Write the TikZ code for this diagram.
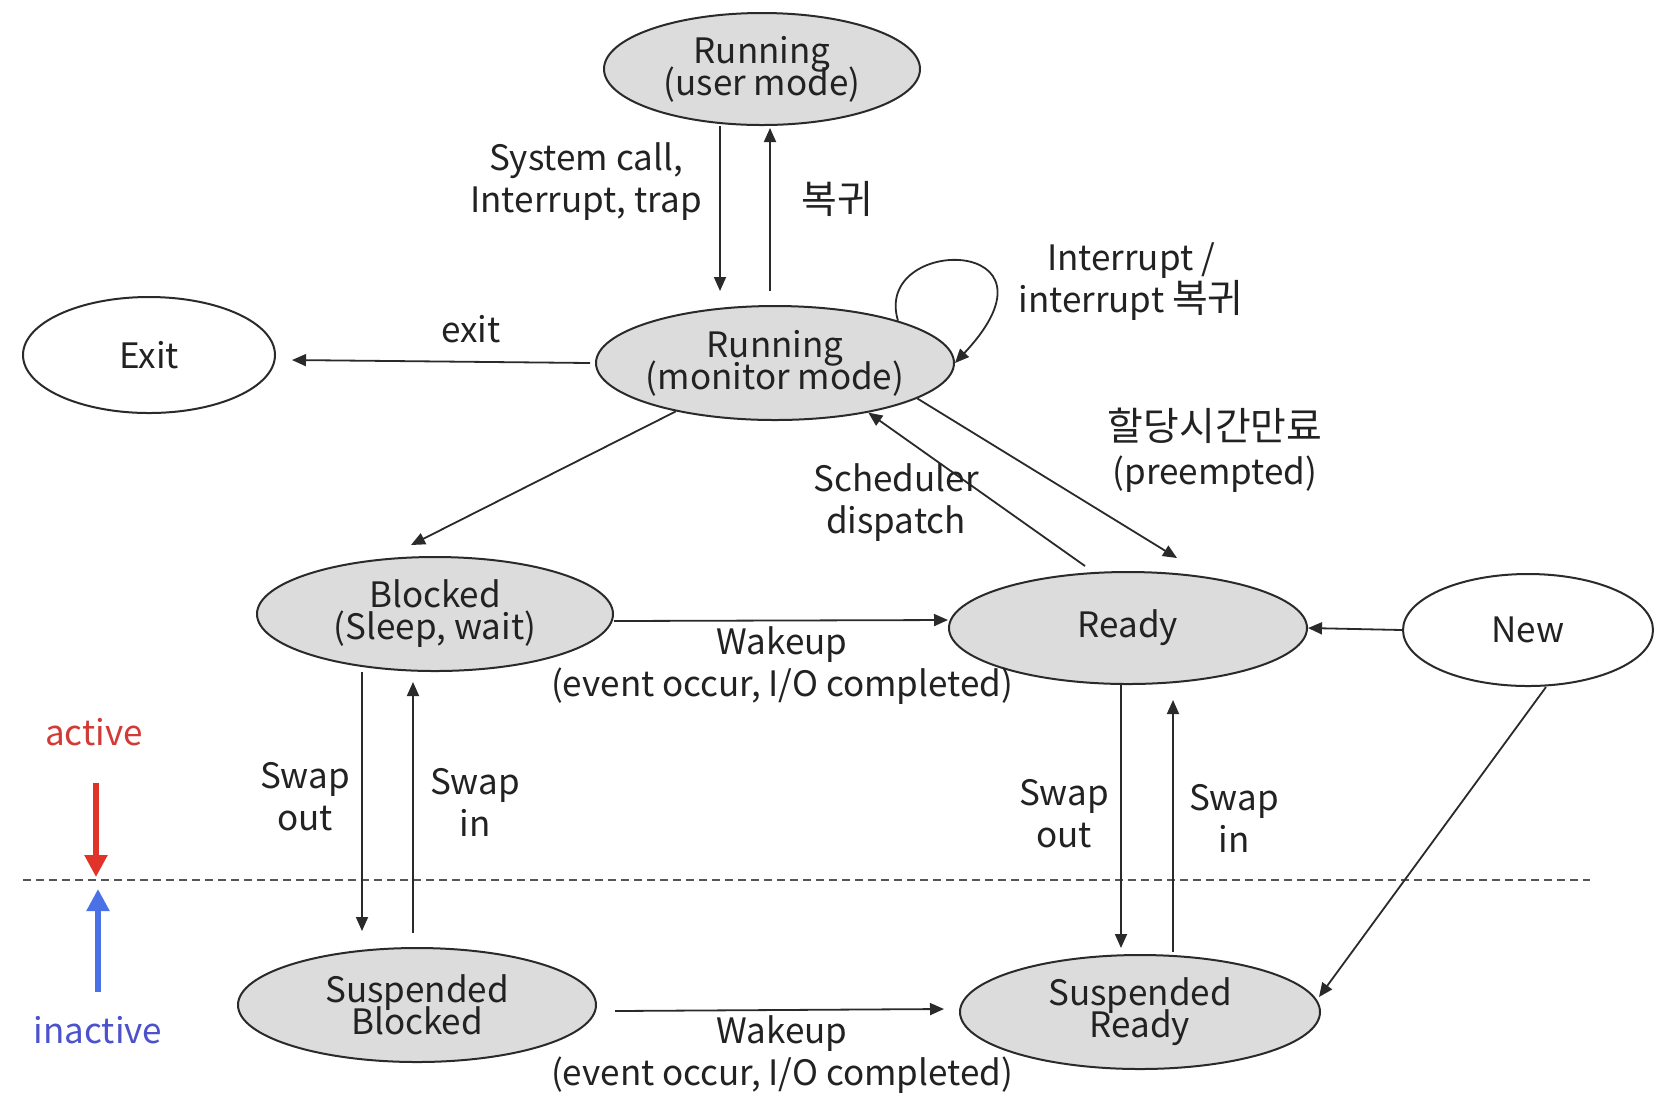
\documentclass[tikz,border=0pt]{standalone}
\usepackage{fontspec}
\setmainfont{Noto Sans CJK KR}
\newfontfamily\krfont[Scale=1.11]{Noto Sans CJK KR}
\usetikzlibrary{arrows.meta,shapes.geometric}
\definecolor{fillg}{HTML}{DCDCDC}
\definecolor{edge}{HTML}{2A2A2A}
\definecolor{txt}{HTML}{222222}
\definecolor{sepg}{HTML}{555555}
\definecolor{actred}{HTML}{E0342B}
\definecolor{actredt}{HTML}{D23A36}
\definecolor{inblue}{HTML}{4A72E6}
\definecolor{inbluet}{HTML}{4B52CC}
\newcommand\tightlead{\lineskiplimit=-20pt\relax\lineskip=0pt\relax}
\begin{document}
\begin{tikzpicture}[x=0.5pt,y=-0.5pt,
 st/.style={ellipse,draw=edge,line width=1pt,inner sep=-8pt,align=center,text=txt,font=\fontsize{17.5}{16}\selectfont\tightlead},
 gst/.style={st,fill=fillg},
 wst/.style={st,fill=white},
 lab/.style={align=center,text=txt,inner sep=0pt,font=\fontsize{17.5}{21}\selectfont},
 arr/.style={-{Triangle[length=7pt,width=6pt]},line width=0.9pt,draw=edge},
 bigarr/.style={-{Triangle[length=11pt,width=11pt]},line width=2.6pt},
 sepline/.style={draw=sepg,line width=1pt,dash pattern=on 4pt off 2.5pt}
]
\path[use as bounding box,fill=white] (0,0) rectangle (1660,1116);

% states
\node[gst,minimum width=158pt,minimum height=56pt] (user) at (762,69) {Running\\(user mode)};
\node[gst,minimum width=179pt,minimum height=57pt] (mon) at (775,363) {Running\\(monitor mode)};
\node[wst,minimum width=126pt,minimum height=58pt] (exit) at (149,355) {Exit};
\node[gst,minimum width=178pt,minimum height=57pt] (blk) at (435,614) {Blocked\\(Sleep, wait)};
\node[gst,minimum width=179pt,minimum height=56pt] (rdy) at (1128,628) {Ready};
\node[wst,minimum width=125pt,minimum height=56pt] (new) at (1528,630) {New};
\node[gst,minimum width=179pt,minimum height=57pt] (sblk) at (417,1005) {Suspended\\Blocked};
\node[gst,minimum width=180pt,minimum height=57pt] (srdy) at (1140,1012) {Suspended\\Ready};

% separator
\coordinate (sepL) at (23,880);
\coordinate (sepR) at (1590,880);
\draw[sepline] (sepL) -- (sepR);

% active / inactive
\coordinate (redS) at (96,783);
\coordinate (redE) at (96,877);
\coordinate (blueS) at (98,992);
\coordinate (blueE) at (98,889);
\draw[bigarr,draw=actred,fill=actred] (redS) -- (redE);
\draw[bigarr,draw=inblue,fill=inblue] (blueS) -- (blueE);
\node[lab,text=actredt] (active) at (94,732) {active};
\node[lab,text=inbluet] (inactive) at (98,1030) {inactive};

% connectors
\draw[arr] ([xshift=-21pt]user.south) -- ([xshift=-21pt,yshift=7pt]user.south |- mon.north);
\draw[arr] ([xshift=4pt,yshift=7pt]user.south |- mon.north) -- ([xshift=4pt,yshift=-1pt]user.south);
\draw[arr] (mon.19) .. controls +(-26,-86) and +(120,-128) .. (mon.east);
\draw[arr] ([xshift=-2.5pt]mon.west) -- ([xshift=8pt,yshift=-2.5pt]exit.east);
\draw[arr] (mon.206) -- ([xshift=-12pt,yshift=5.5pt]blk.north);
\draw[arr] ([xshift=-21.5pt,yshift=2.5pt]rdy.north) -- (mon.332);
\draw[arr] (mon.346) -- ([xshift=24.5pt,yshift=6.5pt]rdy.north);
\draw[arr] ([yshift=-3.5pt]blk.east) -- ([yshift=4pt]rdy.west);
\draw[arr] (new.west) -- (rdy.east);
\draw[arr] ([xshift=-36.5pt]blk.south) -- ([xshift=-36.5pt,yshift=8pt]blk.south |- sblk.north);
\draw[arr] ([xshift=-2pt,yshift=7pt]sblk.north) -- ([xshift=-2pt,yshift=-5pt]sblk.north |- blk.south);
\draw[arr] ([xshift=-3.5pt]rdy.south) -- ([xshift=-3.5pt,yshift=3pt]rdy.south |- srdy.north);
\draw[arr] ([xshift=16.5pt,yshift=1pt]srdy.north) -- ([xshift=16.5pt,yshift=-7.5pt]srdy.north |- rdy.south);
\draw[arr] ([xshift=9pt]new.south) -- ([xshift=-1pt,yshift=7.5pt]srdy.east);
\draw[arr] ([xshift=9pt,yshift=-3pt]sblk.east) -- ([xshift=-7.5pt,yshift=1.5pt]srdy.west);

% labels
\node[lab] (lsys) at (586,182) {System call,\\Interrupt, trap};
\node[lab] (lret) at (837,199) {\krfont 복귀};
\node[lab] (lint) at (1131,282) {Interrupt /\\interrupt {\krfont 복귀}};
\node[lab,font=\fontsize{17.5}{22}\selectfont] (lpre) at (1215,450) {{\krfont 할당시간만료}\\(preempted)};
\node[lab] (lsch) at (896,503) {Scheduler\\dispatch};
\node[lab] (lexit) at (471,329) {exit};
\node[lab] (lwk1) at (782,666) {Wakeup\\(event occur, I/O completed)};
\node[lab] (lwk2) at (782,1055) {Wakeup\\(event occur, I/O completed)};
\node[lab] (lso1) at (305,797) {Swap\\out};
\node[lab] (lsi1) at (475,802) {Swap\\in};
\node[lab] (lso2) at (1064,814) {Swap\\out};
\node[lab] (lsi2) at (1234,818) {Swap\\in};
\end{tikzpicture}
\end{document}
